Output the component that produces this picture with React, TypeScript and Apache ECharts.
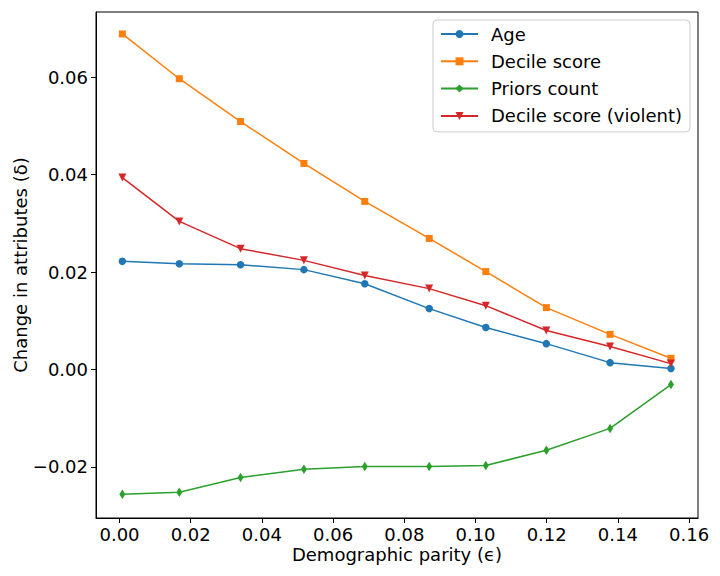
import React, { useEffect, useRef } from "react";
import * as echarts from "echarts";

const xValues = [0.0008, 0.0168, 0.034, 0.0518, 0.0689, 0.087, 0.1029, 0.1199, 0.1378, 0.1549];
const age = [0.0222, 0.0217, 0.0215, 0.0205, 0.0176, 0.0125, 0.0086, 0.0053, 0.0014, 0.0002];
const decileScore = [0.0689, 0.0597, 0.0509, 0.0423, 0.0345, 0.0269, 0.0201, 0.0127, 0.0072, 0.0023];
const priorsCount = [-0.0256, -0.0252, -0.0222, -0.0205, -0.0199, -0.0199, -0.0197, -0.0166, -0.0121, -0.0031];
const decileViolent = [0.0394, 0.0304, 0.0248, 0.0224, 0.0193, 0.0166, 0.0131, 0.008, 0.0047, 0.0012];
const xTicks = [0, 0.02, 0.04, 0.06, 0.08, 0.1, 0.12, 0.14, 0.16];
const yTicks = [-0.02, 0, 0.02, 0.04, 0.06];

const FONT = "DejaVu Sans";

const fmt = (v: number) => {
  const s = Number(v).toFixed(2);
  return s.startsWith("-") ? "\u2212" + s.slice(1) : s;
};

export default function App() {
  const ref = useRef<HTMLDivElement>(null);
  useEffect(() => {
    if (!ref.current) return;
    const chart = echarts.init(ref.current, undefined, { renderer: "svg" });
    const pair = (ys: number[]) => xValues.map((x, i) => [x, ys[i]]);
    const mk = (name: string, color: string, ys: number[], symbol: string, size: any, rotate = 0) => ({
      name,
      type: "line",
      data: pair(ys),
      symbol,
      symbolSize: size,
      symbolRotate: rotate,
      showAllSymbol: true,
      lineStyle: { color, width: 1.5 },
      itemStyle: { color },
      emphasis: { disabled: true },
    });
    chart.setOption({
      animation: false,
      backgroundColor: "#ffffff",
      grid: {
        left: 96,
        right: 22,
        top: 12,
        bottom: 58,
        outerBoundsMode: "none",
        containLabel: false,
        show: true,
        borderColor: "#000",
        borderWidth: 1,
        backgroundColor: "transparent",
      },
      legend: {
        orient: "vertical",
        left: 433,
        top: 20,
        padding: [5, 8, 7, 7],
        itemGap: 9.3,
        itemWidth: 37,
        itemHeight: 10,
        backgroundColor: "#fff",
        borderColor: "#cccccc",
        borderWidth: 1,
        borderRadius: 4,
        textStyle: { fontFamily: FONT, fontSize: 18, color: "#000", padding: [0, 0, 0, 8] },
        data: ["Age", "Decile score", "Priors count", "Decile score (violent)"],
      },
      xAxis: {
        type: "value",
        min: -0.0066,
        max: 0.1625,
        name: "Demographic parity (\u03f5)",
        nameLocation: "middle",
        nameGap: 27,
        nameMoveOverlap: false,
        nameTextStyle: { fontFamily: FONT, fontSize: 18, lineHeight: 18, color: "#000", verticalAlign: "top" },
        axisLine: { show: true, onZero: false, lineStyle: { color: "#000", width: 1 } },
        axisTick: { show: true, length: 5, lineStyle: { color: "#000" }, customValues: xTicks },
        axisLabel: {
          fontFamily: FONT,
          fontSize: 18,
          lineHeight: 18,
          color: "#000",
          margin: 7,
          customValues: xTicks,
          formatter: (v: number) => fmt(v),
        },
        splitLine: { show: false },
      },
      yAxis: {
        type: "value",
        min: -0.0305,
        max: 0.0734,
        name: "Change in attributes (\u03b4)",
        nameLocation: "middle",
        nameGap: 67,
        nameRotate: 90,
        nameMoveOverlap: false,
        nameTextStyle: { fontFamily: FONT, fontSize: 18, color: "#000" },
        axisLine: { show: true, onZero: false, lineStyle: { color: "#000", width: 1 } },
        axisTick: { show: true, length: 5, lineStyle: { color: "#000" }, customValues: yTicks },
        axisLabel: {
          fontFamily: FONT,
          fontSize: 18,
          color: "#000",
          margin: 8,
          customValues: yTicks,
          formatter: (v: number) => fmt(v),
        },
        splitLine: { show: false },
      },
      series: [
        mk("Age", "#1f77b4", age, "circle", 7.5),
        mk("Decile score", "#ff7f0e", decileScore, "rect", 7),
        mk("Priors count", "#2ca02c", priorsCount, "diamond", [6, 9.5]),
        mk("Decile score (violent)", "#d62728", decileViolent, "triangle", 8, 180),
      ],
    });
    return () => chart.dispose();
  }, []);
  return (
    <div
      ref={ref}
      style={{ position: "absolute", left: 0, top: 0, width: 720, height: 576 }}
    />
  );
}
